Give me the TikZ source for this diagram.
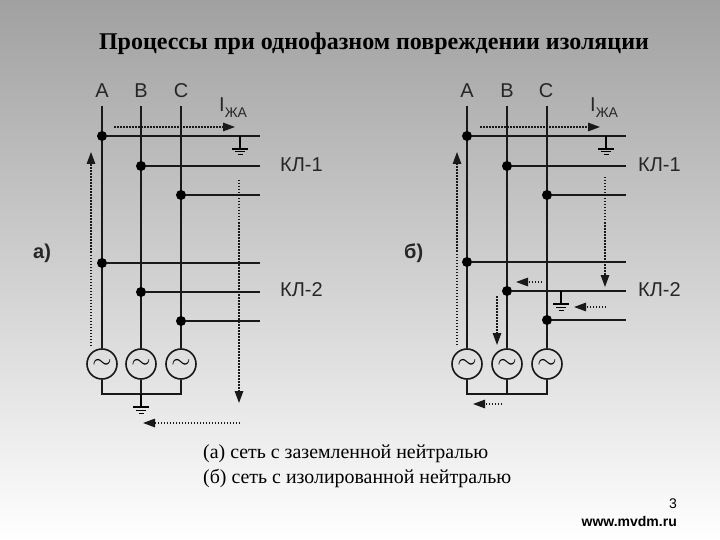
\documentclass[tikz,border=0pt]{standalone}
\usepackage{fontspec}
\setmainfont{Liberation Serif}
\setsansfont{Liberation Sans}
\usetikzlibrary{arrows.meta}
\tikzset{
  bus/.style={line width=2pt,color=black!90},
  dot/.style={circle,fill=black,inner sep=0pt,minimum size=10pt},
  gen/.style={circle,draw=black!90,line width=1.6pt,fill=none,inner sep=0pt,minimum size=30pt,font=\fontsize{26}{26}\selectfont},
  flow/.style={line width=1.3pt,dash pattern=on 1.5pt off 1.5pt,color=black!90,-{Triangle[length=12pt,width=8.5pt]}},
  phase/.style={font=\sffamily\fontsize{20}{22}\selectfont,color=black!85,inner sep=0pt},
  panel/.style={font=\sffamily\bfseries\fontsize{20}{22}\selectfont,color=black!85,inner sep=0pt},
  gnd/.pic={
    \draw[line width=1.2pt] (0,0) -- (0,13);
    \draw[line width=1.4pt] (-8,13) -- (8,13);
    \draw[line width=1pt] (-5,16) -- (5,16);
    \draw[line width=1pt] (-2.5,19) -- (2.5,19);
  }
}
\begin{document}
\begin{tikzpicture}[x=1pt,y=-1pt]
  % background
  \shade[top color=black!37,bottom color=white] (0,0) rectangle (720,540);
  \useasboundingbox (0,0) rectangle (720,540);
  % title
  \node[inner sep=0pt,font=\bfseries\fontsize{24}{26}\selectfont] (title) at (374,44) {Процессы при однофазном повреждении изоляции};
  % left picture, phases
  \node[phase] (la) at (102,91) {A};
  \node[phase] (lb) at (141,91) {B};
  \node[phase] (lc) at (181,91) {C};
  \coordinate (lta) at (102,106);
  \coordinate (ltb) at (141,106);
  \coordinate (ltc) at (181,106);
  % left picture, generators
  \node[gen] (lga) at (102,364) {\raisebox{-1.5pt}{$\sim$}};
  \node[gen] (lgb) at (141,364) {\raisebox{-1.5pt}{$\sim$}};
  \node[gen] (lgc) at (181,364) {\raisebox{-1.5pt}{$\sim$}};
  \coordinate (lnn) at (141,394);
  \draw[bus] (lta) -- (lga);
  \draw[bus] (ltb) -- (lgb);
  \draw[bus] (ltc) -- (lgc);
  \draw[bus] (lga) |- (lnn) -| (lgc);
  \draw[bus] (lgb) -- (lnn);
  \pic at (lnn) {gnd};
  % left picture, lines
  \node[dot] (la1) at (102,136) {};
  \node[dot] (lb1) at (141,166) {};
  \node[dot] (lc1) at (181,195) {};
  \node[dot] (la2) at (102,263) {};
  \node[dot] (lb2) at (141,292) {};
  \node[dot] (lc2) at (181,321) {};
  \coordinate (lea1) at (260,136);
  \coordinate (leb1) at (260,166);
  \coordinate (lec1) at (260,195);
  \coordinate (lea2) at (260,263);
  \coordinate (leb2) at (260,292);
  \coordinate (lec2) at (260,321);
  \draw[bus] (la1) -- (lea1);
  \draw[bus] (lb1) -- (leb1);
  \draw[bus] (lc1) -- (lec1);
  \draw[bus] (la2) -- (lea2);
  \draw[bus] (lb2) -- (leb2);
  \draw[bus] (lc2) -- (lec2);
  \coordinate (lf) at (240,136);
  \pic at (lf) {gnd};
  % left picture, current path
  \coordinate (lp1) at (114,127);
  \coordinate (lp2) at (235,127);
  \coordinate (lp3) at (239,180);
  \coordinate (lp4) at (239,403);
  \coordinate (lp5) at (240,423);
  \coordinate (lp6) at (143,423);
  \coordinate (lp7) at (91,346);
  \coordinate (lp8) at (91,152);
  \draw[flow] (lp1) -- (lp2);
  \draw[flow] (lp3) -- (lp4);
  \draw[flow] (lp5) -- (lp6);
  \draw[flow] (lp7) -- (lp8);
  % left picture, labels
  \node[phase,anchor=west] (lij) at (219,108) {I\raisebox{-6pt}{\fontsize{14}{15}\selectfont ЖА}};
  \node[phase,anchor=west] (lk1) at (280,165) {КЛ-1};
  \node[phase,anchor=west] (lk2) at (280,289.5) {КЛ-2};
  \node[panel,anchor=west] (lname) at (33,253.5) {а)};
  % right picture, phases
  \node[phase] (ra) at (467,91) {A};
  \node[phase] (rb) at (507,91) {B};
  \node[phase] (rc) at (546,91) {C};
  \coordinate (rta) at (467,106);
  \coordinate (rtb) at (507,106);
  \coordinate (rtc) at (547,106);
  % right picture, generators
  \node[gen] (rga) at (467,364) {\raisebox{-1.5pt}{$\sim$}};
  \node[gen] (rgb) at (507,364) {\raisebox{-1.5pt}{$\sim$}};
  \node[gen] (rgc) at (547,364) {\raisebox{-1.5pt}{$\sim$}};
  \coordinate (rnn) at (507,394);
  \draw[bus] (rta) -- (rga);
  \draw[bus] (rtb) -- (rgb);
  \draw[bus] (rtc) -- (rgc);
  \draw[bus] (rga) |- (rnn) -| (rgc);
  \draw[bus] (rgb) -- (rnn);
  % right picture, lines
  \node[dot] (ra1) at (467,136) {};
  \node[dot] (rb1) at (507,166) {};
  \node[dot] (rc1) at (547,195) {};
  \node[dot] (ra2) at (467,262) {};
  \node[dot] (rb2) at (507,291) {};
  \node[dot] (rc2) at (547,320) {};
  \coordinate (rea1) at (626,136);
  \coordinate (reb1) at (626,166);
  \coordinate (rec1) at (626,195);
  \coordinate (rea2) at (626,262);
  \coordinate (reb2) at (626,291);
  \coordinate (rec2) at (626,320);
  \draw[bus] (ra1) -- (rea1);
  \draw[bus] (rb1) -- (reb1);
  \draw[bus] (rc1) -- (rec1);
  \draw[bus] (ra2) -- (rea2);
  \draw[bus] (rb2) -- (reb2);
  \draw[bus] (rc2) -- (rec2);
  \coordinate (rf1) at (606,136);
  \coordinate (rf2) at (561,291);
  \pic at (rf1) {gnd};
  \pic at (rf2) {gnd};
  % right picture, current path
  \coordinate (rp1) at (480,127);
  \coordinate (rp2) at (600,127);
  \coordinate (rp3) at (605,177);
  \coordinate (rp4) at (605,287);
  \coordinate (rp5) at (542,282);
  \coordinate (rp6) at (516,282);
  \coordinate (rp7) at (606,307);
  \coordinate (rp8) at (574,307);
  \coordinate (rp9) at (497,296);
  \coordinate (rp10) at (497,345);
  \coordinate (rp11) at (502,404);
  \coordinate (rp12) at (473,404);
  \coordinate (rp13) at (457,345);
  \coordinate (rp14) at (457,152);
  \draw[flow] (rp1) -- (rp2);
  \draw[flow] (rp3) -- (rp4);
  \draw[flow] (rp5) -- (rp6);
  \draw[flow] (rp7) -- (rp8);
  \draw[flow] (rp9) -- (rp10);
  \draw[flow] (rp11) -- (rp12);
  \draw[flow] (rp13) -- (rp14);
  % right picture, labels
  \node[phase,anchor=west] (rij) at (590,108) {I\raisebox{-6pt}{\fontsize{14}{15}\selectfont ЖА}};
  \node[phase,anchor=west] (rk1) at (638,165) {КЛ-1};
  \node[phase,anchor=west] (rk2) at (638,289.5) {КЛ-2};
  \node[panel,anchor=west] (rname) at (404,253.5) {б)};
  % caption
  \node[inner sep=0pt,anchor=west,font=\fontsize{19.9}{22}\selectfont] (cap1) at (203,454) {(а) сеть с заземленной нейтралью};
  \node[inner sep=0pt,anchor=west,font=\fontsize{19.9}{22}\selectfont] (cap2) at (203,478) {(б) сеть с изолированной нейтралью};
  % page number and site
  \node[inner sep=0pt,anchor=east,font=\sffamily\fontsize{14}{15}\selectfont] (num) at (677,504) {3};
  \node[inner sep=0pt,anchor=east,font=\sffamily\bfseries\fontsize{14}{15}\selectfont] (site) at (677,521) {www.mvdm.ru};
\end{tikzpicture}
\end{document}
